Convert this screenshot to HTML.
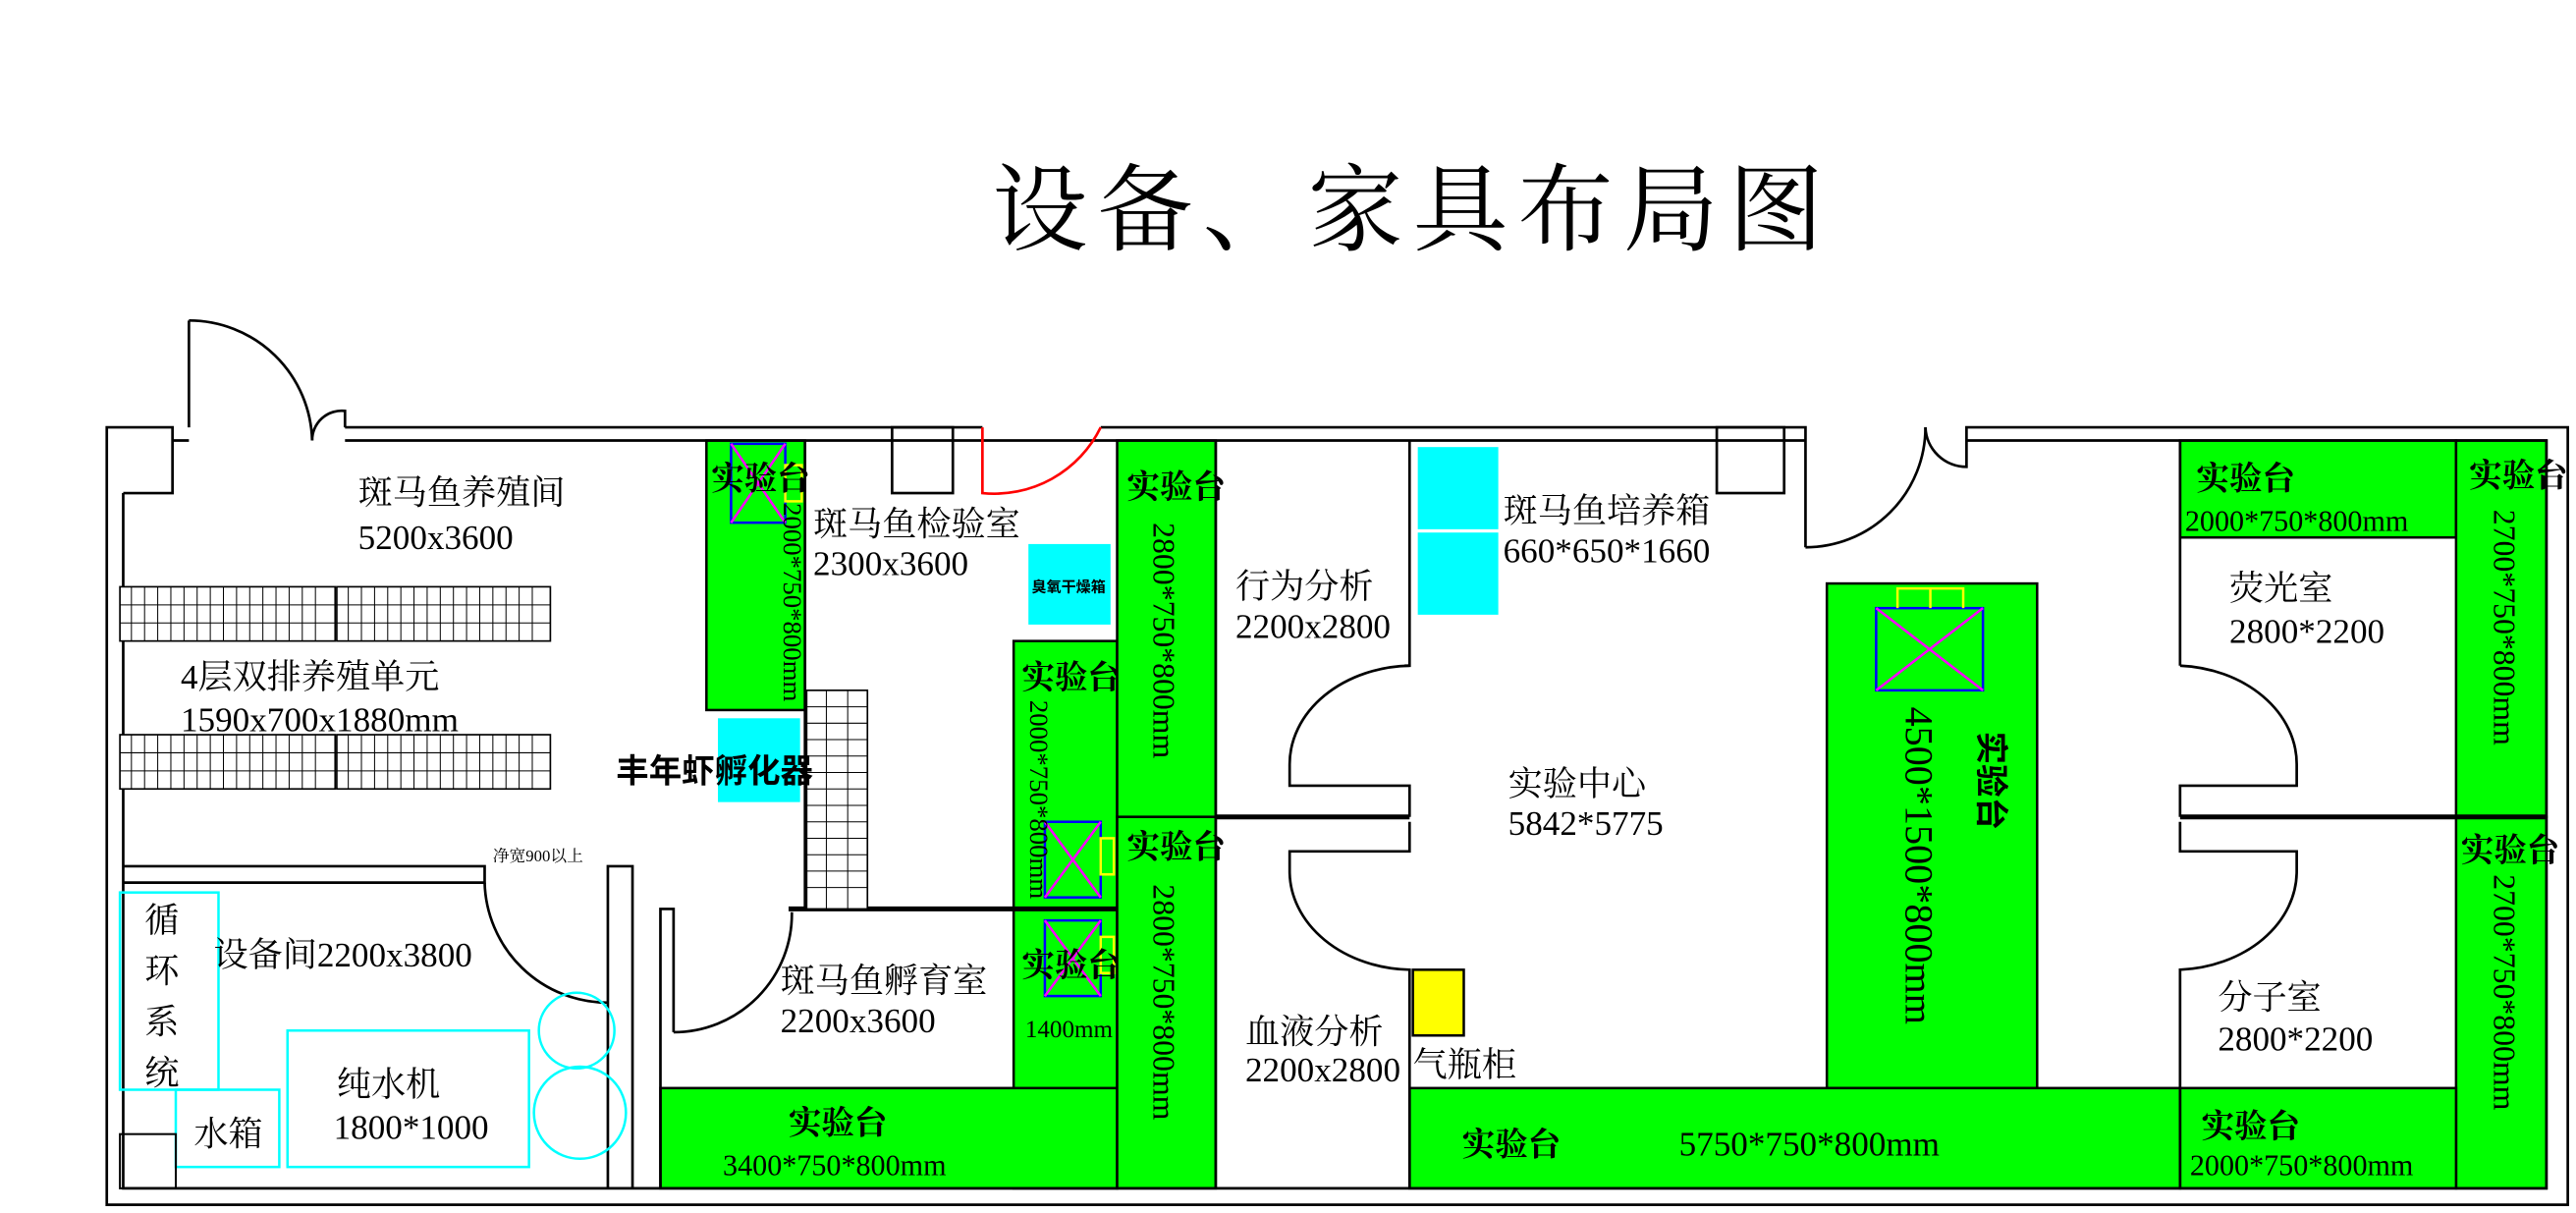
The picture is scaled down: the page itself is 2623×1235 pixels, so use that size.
<!DOCTYPE html>
<html><head><meta charset="utf-8"><style>
html,body{margin:0;padding:0;background:#fff;}
svg{display:block;}
text{font-family:"Liberation Serif","Noto Serif CJK SC","Noto Sans CJK SC",serif;fill:#000;}
.b{font-family:"Liberation Sans","Noto Sans CJK SC",sans-serif;font-weight:bold;}
</style></head><body>
<svg width="2623" height="1235" viewBox="0 0 1568 738" preserveAspectRatio="none" xmlns="http://www.w3.org/2000/svg">
<rect width="1568" height="738" fill="#fff"/>
<text x="860" y="148" font-size="58" text-anchor="middle" letter-spacing="6">设备、家具布局图</text>

<g fill="#00ff00" stroke="#000" stroke-width="1.5">
<rect x="430" y="268" width="60" height="164"/>
<rect x="617" y="390" width="63" height="333"/>
<rect x="402" y="662" width="278" height="61"/>
<rect x="680" y="268" width="60" height="229"/>
<rect x="680" y="497" width="60" height="226"/>
<rect x="1112" y="355" width="128" height="307"/>
<rect x="858" y="662" width="469" height="61"/>
<rect x="1327" y="268" width="168" height="59"/>
<rect x="1495" y="268" width="55" height="229"/>
<rect x="1495" y="497" width="55" height="226"/>
<rect x="1327" y="662" width="168" height="61"/>
</g>

<g fill="#00ffff">
<rect x="437" y="437" width="50" height="51"/>
<rect x="626" y="331" width="50" height="49"/>
<rect x="863" y="272" width="49" height="50"/>
<rect x="863" y="324" width="49" height="50"/>
</g>
<rect x="860" y="590" width="31" height="40" fill="#ffff00" stroke="#000" stroke-width="1.5"/>

<!-- walls -->
<g fill="none" stroke="#000" stroke-width="1.6">
<polyline points="115,260 115,195"/>
<path d="M115,195 A75,75 0 0 1 190,268"/>
<path d="M190,268 A18,18 0 0 1 210,250 L210,260"/>
<polyline points="210,260 598,260"/>
<polyline points="670,260 1099,260 1099,333"/>
<path d="M1099,333 A73,73 0 0 0 1172,260"/>
<path d="M1172,260 A25,25 0 0 0 1197,284 L1197,260 1563,260 1563,733 65,733 65,260 105,260 105,300 75,300"/>
<polyline points="105,268 115,268"/>
<polyline points="210,268 1099,268"/>
<polyline points="1197,268 1550,268 1550,723 75,723 75,300"/>
<rect x="543" y="260" width="37" height="40"/>
<rect x="1045" y="260" width="41" height="40"/>
<!-- inner walls -->
<line x1="490" y1="268" x2="490" y2="553"/>
<line x1="493" y1="432" x2="493" y2="553"/>
<line x1="480" y1="553" x2="680" y2="553" stroke-width="3"/>
<line x1="740" y1="268" x2="740" y2="723"/>
<line x1="740" y1="497" x2="858" y2="497" stroke-width="3"/>
<polyline points="858,268 858,405 855,405"/>
<path d="M858,405 A75,60 0 0 0 785,465 L785,478 L858,478 858,497"/>
<path d="M858,500 L858,518 785,518 785,530 A75,60 0 0 0 858,590 L858,723"/>
<line x1="1327" y1="268" x2="1327" y2="405"/>
<path d="M1327,405 A75,60 0 0 1 1398,465 L1398,478 L1327,478 1327,497"/>
<path d="M1327,500 L1327,518 1398,518 1398,530 A75,60 0 0 1 1327,590 L1327,723"/>
<line x1="1327" y1="497" x2="1550" y2="497" stroke-width="3"/>
<!-- bottom-left -->
<polyline points="75,527 295,527 295,537 75,537"/>
<path d="M295,537 A75,75 0 0 0 370,610"/>
<polyline points="370,723 370,527 385,527 385,723"/>
<polyline points="402,723 402,553 410,553 410,628"/>
<path d="M410,628 A72,72 0 0 0 482,555"/>
</g>
<path d="M598,260 L598,300 A72,72 0 0 0 670,260" fill="none" stroke="#f00" stroke-width="1.6"/>

<!-- racks -->
<g fill="#fff" stroke="#000" stroke-width="1">
<rect x="73" y="357" width="131" height="33"/><rect x="205" y="357" width="130" height="33"/>
<rect x="73" y="447" width="131" height="33"/><rect x="205" y="447" width="130" height="33"/>
<rect x="491" y="420" width="37" height="133"/>
</g>
<g stroke="#000" stroke-width="0.6">
<path d="M73,368H335M73,379H335M73,458H335M73,469H335M503,420V553M516,420V553" />
<path d="M80,357V390M88,357V390M96,357V390M104,357V390M112,357V390M120,357V390M128,357V390M136,357V390M144,357V390M152,357V390M160,357V390M168,357V390M176,357V390M184,357V390M192,357V390M212,357V390M220,357V390M228,357V390M236,357V390M244,357V390M252,357V390M260,357V390M268,357V390M276,357V390M284,357V390M292,357V390M300,357V390M308,357V390M316,357V390M324,357V390"/>
<path d="M80,447V480M88,447V480M96,447V480M104,447V480M112,447V480M120,447V480M128,447V480M136,447V480M144,447V480M152,447V480M160,447V480M168,447V480M176,447V480M184,447V480M192,447V480M212,447V480M220,447V480M228,447V480M236,447V480M244,447V480M252,447V480M260,447V480M268,447V480M276,447V480M284,447V480M292,447V480M300,447V480M308,447V480M316,447V480M324,447V480"/>
<path d="M491,430H528M491,440H528M491,450H528M491,460H528M491,470H528M491,480H528M491,490H528M491,500H528M491,510H528M491,520H528M491,530H528M491,540H528"/>
</g>

<!-- X boxes -->
<g fill="none" stroke-width="1.5">
<rect x="445" y="270" width="33" height="48" stroke="#0000ff"/><path d="M445,270L478,318M478,270L445,318" stroke="#ff00ff"/><rect x="478" y="283" width="10" height="22" stroke="#ffff00"/>
<rect x="636" y="500" width="34" height="46" stroke="#0000ff"/><path d="M636,500L670,546M670,500L636,546" stroke="#ff00ff"/><rect x="670" y="510" width="8" height="22" stroke="#ffff00"/>
<rect x="636" y="560" width="34" height="46" stroke="#0000ff"/><path d="M636,560L670,606M670,560L636,606" stroke="#ff00ff"/><rect x="670" y="570" width="8" height="22" stroke="#ffff00"/>
<rect x="1142" y="370" width="65" height="50" stroke="#0000ff"/><path d="M1142,370L1207,420M1207,370L1142,420" stroke="#ff00ff"/><path d="M1155,370V358H1195V370M1175,358V370" stroke="#ffff00"/>
</g>

<!-- circles & cyan boxes -->
<g fill="none" stroke="#00ffff" stroke-width="1.5">
<rect x="73" y="543" width="60" height="120"/>
<rect x="107" y="663" width="63" height="47"/>
<rect x="175" y="627" width="147" height="83"/>
<circle cx="351" cy="627" r="23"/><circle cx="353" cy="677" r="28"/>
</g>
<rect x="73" y="690" width="34" height="33" fill="none" stroke="#000" stroke-width="1.2"/>

<!-- labels -->
<g font-size="21">
<text x="218" y="307">斑马鱼养殖间</text><text x="218" y="334">5200x3600</text>
<text x="110" y="419">4层双排养殖单元</text><text x="110" y="445">1590x700x1880mm</text>
<text x="495" y="326">斑马鱼检验室</text><text x="495" y="350">2300x3600</text>
<text x="752" y="364">行为分析</text><text x="752" y="388">2200x2800</text>
<text x="758" y="635">血液分析</text><text x="758" y="658">2200x2800</text>
<text x="915" y="318">斑马鱼培养箱</text><text x="915" y="342">660*650*1660</text>
<text x="918" y="484">实验中心</text><text x="918" y="508">5842*5775</text>
<text x="860" y="655">气瓶柜</text>
<text x="1357" y="365">荧光室</text><text x="1357" y="391">2800*2200</text>
<text x="1350" y="614">分子室</text><text x="1350" y="639">2800*2200</text>
<text x="475" y="604">斑马鱼孵育室</text><text x="475" y="628">2200x3600</text>
<text x="130" y="588">设备间2200x3800</text>
<text x="205" y="667">纯水机</text><text x="203" y="693">1800*1000</text>
<text x="118" y="697">水箱</text>
<text x="1022" y="703">5750*750*800mm</text>
</g>
<g font-size="21"><text x="88" y="567">循</text><text x="88" y="598">环</text><text x="88" y="629">系</text><text x="88" y="660">统</text></g>
<text x="300" y="524" font-size="10">净宽900以上</text>
<text x="375" y="476" font-size="20" class="b">丰年虾孵化器</text>
<text x="628" y="360" font-size="9" class="b">臭氧干燥箱</text>
<g font-size="20" class="b">
<text x="433" y="298">实验台</text>
<text x="686" y="303">实验台</text>
<text x="686" y="522">实验台</text>
<text x="622" y="419">实验台</text>
<text x="622" y="594">实验台</text>
<text x="480" y="690">实验台</text>
<text x="890" y="703">实验台</text>
<text x="1337" y="298">实验台</text>
<text x="1503" y="296">实验台</text>
<text x="1498" y="524">实验台</text>
<text x="1340" y="692">实验台</text>
</g>
<g font-size="18">
<text x="440" y="715">3400*750*800mm</text>
<text x="624" y="631" font-size="15">1400mm</text>
<text x="1330" y="323">2000*750*800mm</text>
<text x="1333" y="715">2000*750*800mm</text>
</g>
<g font-size="19">
<text transform="translate(702,318) rotate(90)">2800*750*800mm</text>
<text transform="translate(702,538) rotate(90)">2800*750*800mm</text>
<text transform="translate(1518,310) rotate(90)">2700*750*800mm</text>
<text transform="translate(1518,532) rotate(90)">2700*750*800mm</text>
<text transform="translate(1160,430) rotate(90)" font-size="24">4500*1500*800mm</text>
<text transform="translate(1205,445) rotate(90)" class="b" font-size="20">实验台</text>
<text transform="translate(477,306) rotate(90)" font-size="16">2000*750*800mm</text>
<text transform="translate(627,426) rotate(90)" font-size="16">2000*750*800mm</text>
</g>
</svg>
</body></html>
